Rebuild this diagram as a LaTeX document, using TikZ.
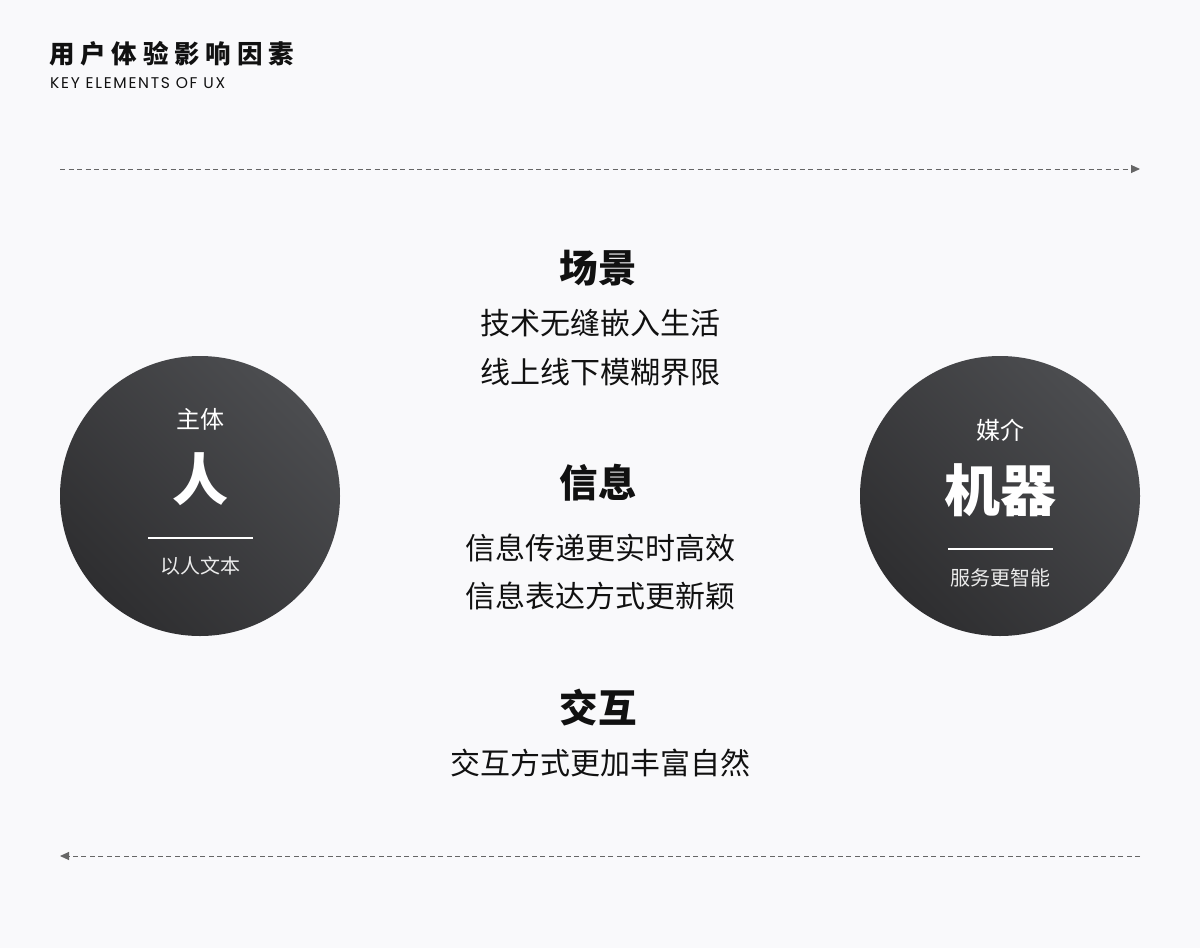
\documentclass[tikz,border=0pt]{standalone}
\usepackage{fontspec}
\usetikzlibrary{arrows.meta}
\newfontfamily\cjk{Noto Sans CJK SC}
\newfontfamily\cjkt[LetterSpace=23]{Noto Sans CJK SC}
\newfontfamily\latt[LetterSpace=11]{Poppins}
\definecolor{bgc}{HTML}{F9F9FB}
\definecolor{txt}{HTML}{111111}
\definecolor{dashc}{HTML}{666666}
\definecolor{circlight}{HTML}{4C4D50}
\definecolor{circdark}{HTML}{2E2E30}
\tikzset{
  heading/.style={text=txt, font=\cjk\bfseries\fontsize{38.5}{40}\selectfont, inner sep=0pt},
  bodyline/.style={text=txt, font=\cjk\fontsize{30}{32}\selectfont, inner sep=0pt},
  disc/.style={circle, minimum size=280pt, inner sep=0pt, top color=circlight, bottom color=circdark, shading angle=-45, draw=none},
  small/.style={text=white, font=\cjk\fontsize{24}{26}\selectfont, inner sep=0pt},
  big/.style={text=white, font=\cjk\bfseries\fontsize{56}{60}\selectfont, inner sep=0pt},
  foot/.style={text=white!92!black, font=\cjk\fontsize{20}{22}\selectfont, inner sep=0pt},
  rule/.style={white, line width=1.2pt},
  flow/.style={dashc, line width=1pt, dash pattern=on 5pt off 3.5pt, -{Triangle[length=9pt,width=8pt]}}
}
\begin{document}
\begin{tikzpicture}[x=1pt,y=-1pt]
\fill[bgc] (0,0) rectangle (1200,948);
\useasboundingbox (0,0) rectangle (1200,948);
% title
\node[anchor=west, inner sep=0pt, text=txt, font=\cjkt\bfseries\fontsize{25.5}{28}\selectfont] (title) at (49,54) {用户体验影响因素};
\node[anchor=west, inner sep=0pt, text=txt, font=\latt\fontsize{15.5}{17}\selectfont] (subtitle) at (50,83.5) {KEY ELEMENTS OF UX};
% flow arrows
\coordinate (t1) at (60,169);
\coordinate (t2) at (1140,169);
\coordinate (b1) at (1140,856);
\coordinate (b2) at (60,856);
\draw[flow] (t1) -- (t2);
\draw[flow] (b1) -- (b2);
% left circle
\node[disc] (human) at (200,496) {};
\node[small] (humanlab) at (200,419) {主体};
\node[big] (humanbig) at (200,479) {人};
\coordinate (hl1) at (148,538);
\coordinate (hl2) at (253,538);
\draw[rule] (hl1) -- (hl2);
\node[foot] (humanfoot) at (200,566) {以人文本};
% right circle
\node[disc] (machine) at (1000,496) {};
\node[small] (machlab) at (1000,430) {媒介};
\node[big] (machbig) at (1000,490) {机器};
\coordinate (ml1) at (948,549);
\coordinate (ml2) at (1053,549);
\draw[rule] (ml1) -- (ml2);
\node[foot] (machfoot) at (1000,578) {服务更智能};
% center
\node[heading] (scene) at (598,268) {场景};
\node[bodyline] (scene1) at (600,323) {技术无缝嵌入生活};
\node[bodyline] (scene2) at (600,372) {线上线下模糊界限};
\node[heading] (info) at (598,483) {信息};
\node[bodyline] (info1) at (600,548) {信息传递更实时高效};
\node[bodyline] (info2) at (600,596) {信息表达方式更新颖};
\node[heading] (inter) at (598,708) {交互};
\node[bodyline] (inter1) at (600,763) {交互方式更加丰富自然};
\end{tikzpicture}
\end{document}
